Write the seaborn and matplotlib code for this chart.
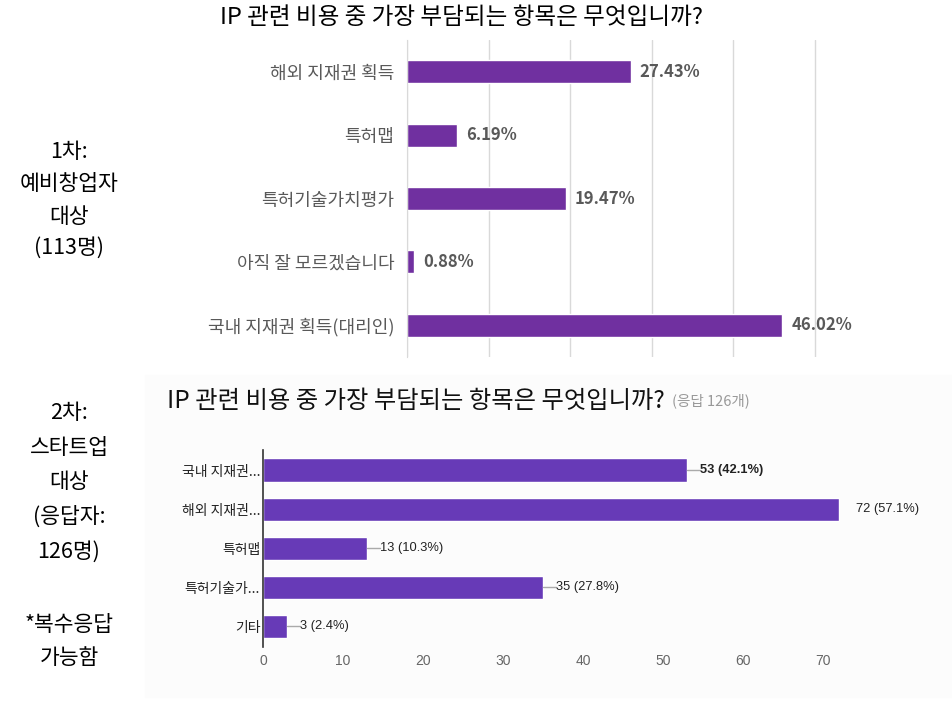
import matplotlib
matplotlib.use("Agg")
import matplotlib.pyplot as plt
import seaborn as sns
import pandas as pd

# ---------------------------------------------------------------- data
title = "IP 관련 비용 중 가장 부담되는 항목은 무엇입니까?"

items_1 = ["해외 지재권 획득", "특허맵", "특허기술가치평가",
           "아직 잘 모르겠습니다", "국내 지재권 획득(대리인)"]
pct_1 = [27.43, 6.19, 19.47, 0.88, 46.02]

items_2 = ["국내 지재권...", "해외 지재권...", "특허맵", "특허기술가...", "기타"]
count_2 = [53, 72, 13, 35, 3]
pct_2 = [42.1, 57.1, 10.3, 27.8, 2.4]
n_resp_2 = 126

side_1 = ["1차:", "예비창업자", "대상", "(113명)"]
side_2 = ["2차:", "스타트업", "대상", "(응답자:", "126명)", "", "*복수응답", "가능함"]

# ---------------------------------------------------------------- style
sns.set_style("white")
plt.rcParams['font.family'] = ['Noto Sans CJK KR', 'DejaVu Sans']

W, H = 953, 701
fig = plt.figure(figsize=(W / 100, H / 100), dpi=100)

# faint background behind the second (forms) chart
bg = plt.Rectangle((145 / W, 1 - 697 / H), (W - 145) / W, 322 / H,
                   transform=fig.transFigure, color="#fcfcfc", zorder=-10)
fig.add_artist(bg)

#------------------------------------------------------------------------------#
# chart 1
ax1 = fig.add_axes([407 / W, 1 - 357 / H, 424 / W, 317 / H])
df1 = pd.DataFrame({"item": items_1, "pct": pct_1})
sns.barplot(data=df1, x="pct", y="item", orient="h", color="#7030A0",
            saturation=1, width=0.36, ax=ax1)
ax1.set_xlim(0, 52)
ax1.set_xticks([0, 10, 20, 30, 40, 50])
ax1.set_xticklabels([])
ax1.tick_params(axis="x", length=0)
ax1.grid(axis="x", color="#d9d9d9", linewidth=1)
ax1.set_axisbelow(True)
for s in ["top", "right", "bottom"]:
    ax1.spines[s].set_visible(False)
ax1.spines["left"].set_color("#d9d9d9")
ax1.set_xlabel("")
ax1.set_ylabel("")
ax1.tick_params(axis="y", length=0, pad=9, labelsize=13, labelcolor="#595959")
ax1.set_yticks([i - 0.5 for i in range(len(items_1) + 1)], minor=True)
ax1.tick_params(axis="y", which="minor", length=5, color="#d9d9d9")
for i, v in enumerate(pct_1):
    ax1.annotate(f"{v:.2f}%", (v, i), xytext=(6.5, 0), textcoords="offset points",
                 va="center", ha="left", fontsize=12, fontweight="bold",
                 color="#595959", annotation_clip=False)
fig.text(462 / W, 1 - 18 / H, title, ha="center", va="center", fontsize=17, color="black")

#------------------------------------------------------------------------------#
# chart 2
ax2 = fig.add_axes([263 / W, 1 - 647 / H, 640 / W, 197.5 / H])
df2 = pd.DataFrame({"item": items_2, "count": count_2})
sns.barplot(data=df2, x="count", y="item", orient="h", color="#673AB7",
            saturation=1, width=0.6, ax=ax2)
ax2.set_facecolor("none")
ax2.set_xlim(0, 80)
ax2.set_xticks(range(0, 80, 10))
ax2.set_xlabel("")
ax2.set_ylabel("")
for s in ["top", "right", "bottom"]:
    ax2.spines[s].set_visible(False)
ax2.spines["left"].set_color("#333333")
ax2.spines["left"].set_linewidth(1.2)
ax2.tick_params(axis="x", length=0, pad=5, labelsize=10, labelcolor="#666666")
for lab in ax2.get_xticklabels():
    lab.set_fontfamily(["Liberation Sans", "DejaVu Sans"])
ax2.tick_params(axis="y", length=0, pad=2, labelsize=10, labelcolor="#222222")
second = sorted(count_2)[-2]
for i, (c, p) in enumerate(zip(count_2, pct_2)):
    lbl = f"{c} ({p}%)"
    if c == max(count_2):
        x_txt = c + 2.1
    else:
        ax2.plot([c, c + 1.6], [i, i], color="#aaaaaa", linewidth=1, clip_on=False)
        x_txt = c + 1.6
    ax2.text(x_txt, i, lbl, va="center", ha="left", fontsize=9.3,
             fontweight="bold" if c == second else "normal", color="#222222",
             family=["Liberation Sans", "DejaVu Sans"], clip_on=False)

t2 = fig.text(167 / W, 1 - 401 / H, title, ha="left", va="center", fontsize=17.5, color="#111111")
fig.canvas.draw()
bb = t2.get_window_extent()
fig.text(bb.x1 / W + 7 / W, 1 - 401 / H, f"(응답 {n_resp_2}개)", ha="left", va="center",
         fontsize=10.5, color="#999999")

#------------------------------------------------------------------------------#
# side notes
for txt, y in zip(side_1, [152, 184, 217, 248]):
    fig.text(69 / W, 1 - y / H, txt, ha="center", va="center", fontsize=15.5, color="black")
for txt, y in zip(side_2, [413, 448, 482, 517, 552, 588, 625, 658]):
    if txt:
        fig.text(69 / W, 1 - y / H, txt, ha="center", va="center", fontsize=15.5, color="black")

fig.savefig("out.png", dpi=100)
